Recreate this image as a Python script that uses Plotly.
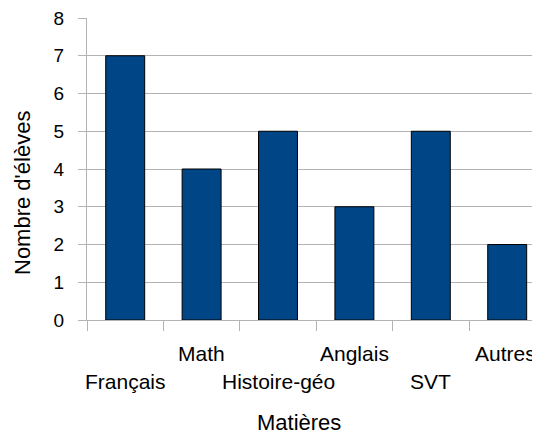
import plotly.graph_objects as go

categories = ["Français", "Math", "Histoire-géo", "Anglais", "SVT", "Autres"]
values = [7, 4, 5, 3, 5, 2]
y_ticks = [0, 1, 2, 3, 4, 5, 6, 7, 8]

FONT = "Liberation Sans, Arial, sans-serif"
OFF = 8  # page body margin
W, H = 540 - OFF, 437 - OFF
PL, PT, PB = 87, 18, 320  # plot edges in screen px
ML, MR, MT = PL - OFF, 0, PT - OFF
MB = H - (PB - OFF)
PW = W - ML - MR
PH = H - MT - MB
cat_px = 76.4
xmax = -0.5 + PW / cat_px


def py(ypx):
    return (PB - ypx) / PH


def px(xpx):
    return (xpx - PL) / PW


fig = go.Figure(go.Bar(
    x=list(range(len(categories))), y=values,
    marker=dict(color="#004586", line=dict(color="#000000", width=1)),
    width=0.51,
))

annotations = []
for i, c in enumerate(categories):
    ypx = 381 if i % 2 == 0 else 353
    annotations.append(dict(
        x=i, xref="x", y=py(ypx), yref="paper",
        text=c, showarrow=False, xanchor="center", yanchor="middle",
        xshift=-2 if i == len(categories) - 1 else 0,
        font=dict(family=FONT, size=21, color="#000000"),
    ))
annotations.append(dict(
    x=px(298.5), xref="paper", y=py(422), yref="paper",
    text="Matières", showarrow=False, xanchor="center", yanchor="middle",
    font=dict(family=FONT, size=22, color="#000000"),
))
annotations.append(dict(
    x=px(22), xref="paper", y=py(193), yref="paper",
    text="Nombre d'élèves", showarrow=False, xanchor="center", yanchor="middle",
    textangle=-90, font=dict(family=FONT, size=22, color="#000000"),
))

fig.update_layout(
    width=W, height=H,
    margin=dict(l=ML, r=MR, t=MT, b=MB, pad=0),
    paper_bgcolor="white", plot_bgcolor="white",
    showlegend=False,
    annotations=annotations,
    font=dict(family=FONT, size=18, color="#000000"),
    xaxis=dict(
        range=[-0.5, xmax], tickmode="array",
        tickvals=[i - 0.5 for i in range(len(categories) + 1)],
        showticklabels=False, ticks="outside", ticklen=10, tickcolor="#b3b3b3",
        showgrid=False, zeroline=False,
        showline=True, linecolor="#b3b3b3", linewidth=1,
    ),
    yaxis=dict(
        range=[0, 8], tickmode="array", tickvals=y_ticks,
        ticks="outside", ticklen=8, tickcolor="#b3b3b3",
        ticklabelstandoff=10, ticklabeloverflow="allow",
        showgrid=True, gridcolor="#b3b3b3", gridwidth=1,
        zeroline=False, showline=True, linecolor="#b3b3b3", linewidth=1,
        tickfont=dict(family=FONT, size=19, color="#000000"),
    ),
)

fig.write_html("out.html")
